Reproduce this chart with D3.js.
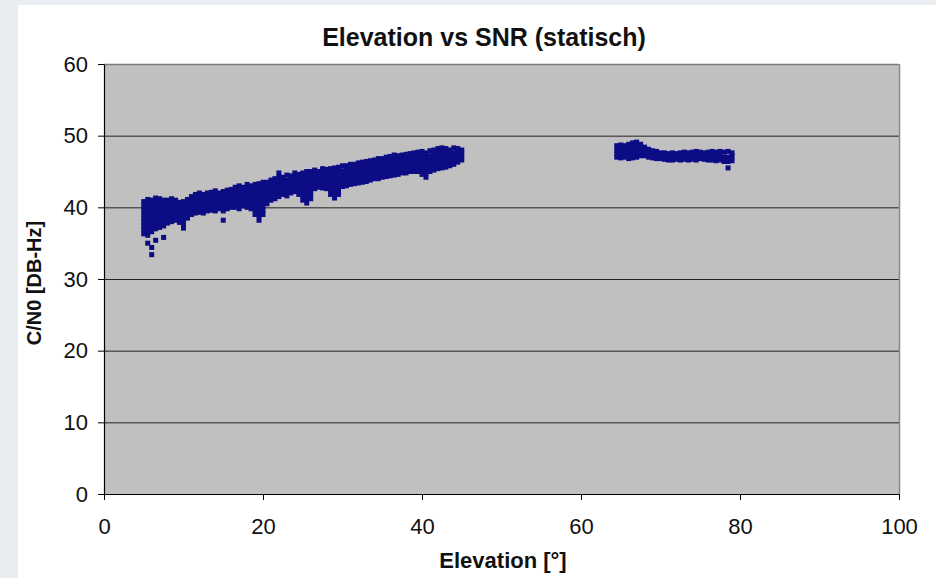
<!DOCTYPE html>
<html>
<head>
<meta charset="utf-8">
<script src="https://cdn.jsdelivr.net/npm/d3@7"></script>
<style>
  html, body { margin: 0; padding: 0; background: #e9edf2; }
  svg { display: block; }
  text { font-family: "Liberation Sans", Arial, sans-serif; fill: #111; }
</style>
</head>
<body>
<svg id="chart" width="936" height="578"></svg>
<script>
// ---------- data ----------
const chartTitle = "Elevation vs SNR (statisch)";
const xTitle = "Elevation [°]";
const yTitle = "C/N0 [DB-Hz]";
const xTicks = [0, 20, 40, 60, 80, 100];
const yTicks = [0, 10, 20, 30, 40, 50, 60];

// rising pass: [elevation, [C/N0 values observed at that elevation]]
const risingPass = [
  [5.0, [36.3, 36.9, 37.4, 38.0, 38.5, 39.1, 39.6, 40.2, 40.8]],
  [5.5, [35.0, 36.1, 36.7, 37.2, 37.8, 38.3, 38.9, 39.4, 40.0, 40.6, 41.1]],
  [6.0, [33.4, 34.4, 36.6, 37.1, 37.7, 38.2, 38.8, 39.3, 39.9, 40.5, 41.0]],
  [6.5, [35.4, 37.0, 37.6, 38.1, 38.7, 39.2, 39.8, 40.3, 40.9, 41.3]],
  [7.0, [37.2, 37.8, 38.4, 38.9, 39.5, 40.0, 40.6, 41.2]],
  [7.5, [35.8, 37.4, 37.9, 38.5, 39.0, 39.6, 40.1, 40.7, 41.0]],
  [8.0, [37.8, 38.3, 38.9, 39.4, 40.0, 40.5, 41.0]],
  [8.5, [38.0, 38.6, 39.1, 39.7, 40.2, 40.8, 41.2]],
  [9.0, [38.2, 38.8, 39.3, 39.9, 40.4, 41.0]],
  [9.5, [37.9, 38.5, 39.0, 39.6, 40.1, 40.7]],
  [10.0, [37.1, 37.6, 38.2, 38.8, 39.3, 39.9, 40.4, 40.8]],
  [10.5, [38.5, 39.1, 39.6, 40.2, 40.7, 41.1]],
  [11.0, [39.0, 39.5, 40.1, 40.6, 41.1, 41.5]],
  [11.5, [39.2, 39.8, 40.3, 40.9, 41.4, 41.8]],
  [12.0, [39.3, 39.9, 40.4, 41.0, 41.5, 42.0]],
  [12.5, [39.2, 39.7, 40.3, 40.8, 41.3, 41.8]],
  [13.0, [39.5, 40.0, 40.6, 41.1, 41.6, 42.0]],
  [13.5, [39.6, 40.2, 40.7, 41.3, 41.8, 42.1]],
  [14.0, [39.5, 40.1, 40.6, 41.2, 41.7, 42.3]],
  [14.5, [39.8, 40.3, 40.9, 41.4, 42.0]],
  [15.0, [38.2, 39.5, 40.1, 40.6, 41.2, 41.7, 42.2]],
  [15.5, [39.8, 40.4, 40.9, 41.5, 42.0, 42.4]],
  [16.0, [40.0, 40.5, 41.1, 41.6, 42.1, 42.5]],
  [16.5, [40.0, 40.6, 41.1, 41.7, 42.2, 42.8]],
  [17.0, [39.8, 40.4, 40.9, 41.5, 42.0, 42.6, 43.0]],
  [17.5, [40.2, 40.7, 41.3, 41.8, 42.3, 42.8]],
  [18.0, [40.0, 40.6, 41.1, 41.7, 42.2, 42.7, 43.2]],
  [18.5, [39.8, 40.4, 40.9, 41.5, 42.0, 42.5, 43.0]],
  [19.0, [39.0, 39.6, 40.1, 40.7, 41.2, 41.8, 42.3, 42.8, 43.2]],
  [19.5, [38.2, 38.8, 39.4, 40.0, 40.5, 41.1, 41.6, 42.2, 42.7, 43.3]],
  [20.0, [39.0, 39.6, 40.2, 40.8, 41.3, 41.9, 42.4, 43.0, 43.5]],
  [20.5, [40.5, 41.0, 41.6, 42.1, 42.7, 43.2, 43.5]],
  [21.0, [41.0, 41.5, 42.1, 42.6, 43.2, 43.8]],
  [21.5, [41.2, 41.8, 42.3, 42.9, 43.4, 44.0]],
  [22.0, [41.5, 42.0, 42.6, 43.1, 43.7, 44.2, 44.8]],
  [22.5, [41.8, 42.3, 42.9, 43.4, 43.9, 44.2]],
  [23.0, [41.6, 42.2, 42.7, 43.3, 43.8, 44.5]],
  [23.5, [42.0, 42.5, 43.1, 43.6, 44.1, 44.4]],
  [24.0, [42.2, 42.7, 43.3, 43.8, 44.3, 44.8]],
  [24.5, [41.8, 42.4, 42.9, 43.5, 44.0, 44.6]],
  [25.0, [41.0, 41.6, 42.1, 42.7, 43.2, 43.8, 44.3, 44.8]],
  [25.5, [40.6, 41.2, 41.7, 42.3, 42.8, 43.4, 43.9, 44.5, 45.0]],
  [26.0, [41.2, 41.8, 42.3, 42.9, 43.4, 44.0, 44.5, 45.0]],
  [26.5, [42.6, 43.1, 43.7, 44.2, 44.7, 45.2]],
  [27.0, [42.8, 43.3, 43.9, 44.4, 45.0]],
  [27.5, [42.7, 43.3, 43.8, 44.4, 44.9, 45.4]],
  [28.0, [42.6, 43.2, 43.7, 44.3, 44.8, 45.3]],
  [28.5, [41.8, 42.4, 42.9, 43.5, 44.0, 44.6, 45.1, 45.4]],
  [29.0, [41.3, 41.9, 42.4, 43.0, 43.5, 44.1, 44.6, 45.2, 45.5]],
  [29.5, [41.8, 42.4, 42.9, 43.5, 44.0, 44.6, 45.1, 45.6]],
  [30.0, [42.9, 43.4, 44.0, 44.5, 45.1, 45.8]],
  [30.5, [43.0, 43.6, 44.1, 44.7, 45.2, 45.8]],
  [31.0, [43.2, 43.7, 44.3, 44.8, 45.4, 46.0]],
  [31.5, [43.3, 43.9, 44.4, 45.0, 45.5, 46.0]],
  [32.0, [43.4, 44.0, 44.5, 45.1, 45.6, 46.2]],
  [32.5, [43.5, 44.1, 44.6, 45.2, 45.7, 46.3]],
  [33.0, [43.6, 44.2, 44.7, 45.3, 45.8, 46.4]],
  [33.5, [43.8, 44.3, 44.9, 45.4, 46.0, 46.5]],
  [34.0, [44.0, 44.5, 45.1, 45.6, 46.2, 46.6]],
  [34.5, [44.0, 44.6, 45.1, 45.7, 46.2, 46.8]],
  [35.0, [44.2, 44.7, 45.3, 45.8, 46.4, 46.8]],
  [35.5, [44.3, 44.9, 45.4, 46.0, 46.5, 47.0]],
  [36.0, [44.4, 45.0, 45.5, 46.1, 46.6, 47.1]],
  [36.5, [44.5, 45.1, 45.6, 46.2, 46.7, 47.3]],
  [37.0, [44.6, 45.2, 45.7, 46.3, 46.8, 47.2]],
  [37.5, [44.8, 45.3, 45.9, 46.4, 47.0, 47.3]],
  [38.0, [44.8, 45.4, 45.9, 46.5, 47.0, 47.4]],
  [38.5, [45.0, 45.5, 46.1, 46.6, 47.1, 47.5]],
  [39.0, [45.0, 45.6, 46.1, 46.7, 47.2, 47.6]],
  [39.5, [45.0, 45.6, 46.1, 46.7, 47.2, 47.7]],
  [40.0, [44.6, 45.2, 45.7, 46.3, 46.8, 47.3, 47.8]],
  [40.5, [44.2, 44.8, 45.3, 45.9, 46.4, 47.0, 47.6]],
  [41.0, [45.0, 45.5, 46.1, 46.6, 47.2, 47.9]],
  [41.5, [45.2, 45.7, 46.3, 46.8, 47.4, 48.0]],
  [42.0, [45.4, 45.9, 46.5, 47.0, 47.6, 48.2]],
  [42.5, [45.5, 46.1, 46.6, 47.2, 47.7, 48.3]],
  [43.0, [45.6, 46.2, 46.7, 47.3, 47.8, 48.2]],
  [43.5, [45.8, 46.4, 46.9, 47.5, 48.0]],
  [44.0, [46.0, 46.5, 47.1, 47.6, 48.3]],
  [44.5, [46.3, 46.8, 47.4, 47.9, 48.2]],
  [45.0, [46.6, 47.1, 47.6, 48.0]]
];

// high pass: [elevation, [C/N0 values]]
const highPass = [
  [64.5, [47.0, 47.5, 48.0, 48.6]],
  [65.0, [46.9, 47.4, 48.0, 48.5, 48.7]],
  [65.5, [47.0, 47.5, 48.1, 48.6]],
  [66.0, [46.8, 47.3, 47.9, 48.4, 48.8]],
  [66.5, [46.9, 47.4, 48.0, 48.5, 49.0]],
  [67.0, [47.0, 47.5, 48.1, 48.6, 49.1]],
  [67.5, [47.2, 47.7, 48.3, 48.8]],
  [68.0, [47.2, 47.8, 48.4]],
  [68.5, [47.0, 47.6, 48.1]],
  [69.0, [46.9, 47.4, 47.9]],
  [69.5, [46.8, 47.3, 47.8]],
  [70.0, [46.8, 47.2, 47.6]],
  [70.5, [46.7, 47.2, 47.6]],
  [71.0, [46.6, 47.1, 47.5]],
  [71.5, [46.6, 47.1, 47.6]],
  [72.0, [46.7, 47.1, 47.5]],
  [72.5, [46.6, 47.1, 47.6]],
  [73.0, [46.7, 47.2, 47.7]],
  [73.5, [46.6, 47.1, 47.6]],
  [74.0, [46.7, 47.2, 47.7]],
  [74.5, [46.6, 47.2, 47.8]],
  [75.0, [46.8, 47.3, 47.7]],
  [75.5, [46.7, 47.2, 47.6]],
  [76.0, [46.6, 47.2, 47.7]],
  [76.5, [46.6, 47.2, 47.8]],
  [77.0, [46.5, 47.1, 47.7]],
  [77.5, [46.6, 47.2, 47.8]],
  [78.0, [46.4, 47.0, 47.7]],
  [78.5, [45.5, 46.4, 47.0, 47.8]],
  [79.0, [46.5, 47.1, 47.6]]
];

// ---------- drawing ----------
const W = 936, H = 578;
const svg = d3.select("#chart");

svg.append("rect").attr("width", W).attr("height", H).attr("fill", "#e9edf2");
svg.append("rect").attr("x", 18).attr("y", 5).attr("width", W - 18).attr("height", H - 5).attr("fill", "#ffffff");

const x = d3.scaleLinear().domain([0, 100]).range([104, 899]);
const y = d3.scaleLinear().domain([0, 60]).range([494, 64]);

// plot area
svg.append("rect")
  .attr("x", x(0)).attr("y", y(60))
  .attr("width", x(100) - x(0)).attr("height", y(0) - y(60))
  .attr("fill", "#c0c0c0");

// gridlines
svg.append("g").selectAll("line")
  .data(yTicks.filter(v => v > 0 && v < 60))
  .join("line")
  .attr("x1", x(0)).attr("x2", x(100))
  .attr("y1", d => y(d) + 0.5).attr("y2", d => y(d) + 0.5)
  .attr("stroke", "#222").attr("stroke-width", 1);

// top and right border of plot area
svg.append("line").attr("x1", x(0)).attr("x2", x(100))
  .attr("y1", y(60) + 0.5).attr("y2", y(60) + 0.5)
  .attr("stroke", "#7a7a7a").attr("stroke-width", 1.5);
svg.append("line").attr("x1", x(100) + 0.5).attr("x2", x(100) + 0.5)
  .attr("y1", y(60)).attr("y2", y(0))
  .attr("stroke", "#8a8a8a").attr("stroke-width", 1.5);

// points
const flat = cols => cols.flatMap(([e, vals]) => vals.map(v => ({ e, v })));
const pts = flat(risingPass).concat(flat(highPass));
svg.append("g").selectAll("rect")
  .data(pts)
  .join("rect")
  .attr("x", d => x(d.e) - 2.5)
  .attr("y", d => y(d.v) - 2.5)
  .attr("width", 5).attr("height", 5)
  .attr("fill", "#0c0c84");

// axes
const yAxis = svg.append("g")
  .attr("transform", `translate(${x(0)},0)`)
  .call(d3.axisLeft(y).tickValues(yTicks).tickSize(6).tickPadding(10).tickSizeOuter(0));
const xAxis = svg.append("g")
  .attr("transform", `translate(0,${y(0)})`)
  .call(d3.axisBottom(x).tickValues(xTicks).tickSize(6).tickPadding(18).tickSizeOuter(0));

[yAxis, xAxis].forEach(g => {
  g.select(".domain").attr("stroke", "#000").attr("stroke-width", 1.2);
  g.selectAll(".tick line").attr("stroke", "#000");
  g.selectAll(".tick text").attr("font-size", 22)
    .attr("font-family", "'Liberation Sans', Arial, sans-serif").attr("fill", "#222");
});

// titles
svg.append("text")
  .attr("x", 484).attr("y", 46)
  .attr("text-anchor", "middle")
  .attr("font-size", 25).attr("font-weight", "bold")
  .text(chartTitle);

svg.append("text")
  .attr("x", 503).attr("y", 568)
  .attr("text-anchor", "middle")
  .attr("font-size", 22).attr("font-weight", "bold")
  .text(xTitle);

svg.append("text")
  .attr("transform", `translate(41,283) rotate(-90)`)
  .attr("text-anchor", "middle")
  .attr("font-size", 20).attr("font-weight", "bold")
  .text(yTitle);
</script>
</body>
</html>
